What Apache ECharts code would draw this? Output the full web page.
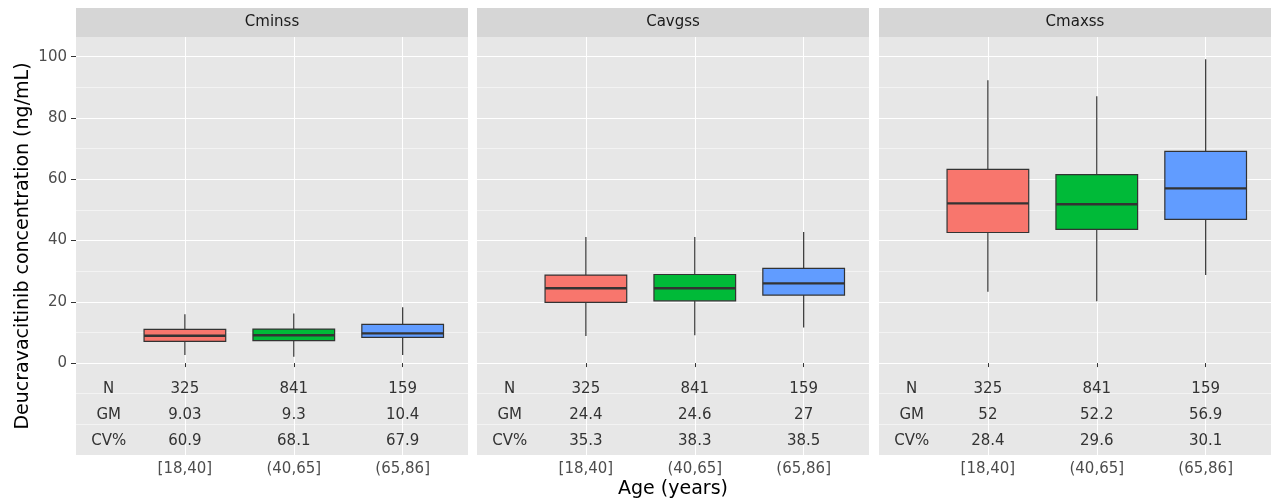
<!DOCTYPE html>
<html>
<head>
<meta charset="utf-8">
<script src="https://cdn.jsdelivr.net/npm/echarts@6/dist/echarts.min.js"></script>
<style>
  html, body { margin: 0; padding: 0; background: #ffffff; }
  #chart { width: 1274px; height: 502px; }
</style>
</head>
<body>
<div id="chart"></div>
<script>
// ---- data ----
const panelNames = ['Cminss', 'Cavgss', 'Cmaxss'];
const ageGroups = ['[18,40]', '(40,65]', '(65,86]'];
const yTickValues = [0, 20, 40, 60, 80, 100];

// box statistics per age group: [lower whisker, Q1, median, Q3, upper whisker]
const cminssBoxes = [[2.6, 7.1, 8.9, 11.0, 15.9], [2.1, 7.3, 9.1, 11.1, 16.2], [2.6, 8.4, 9.7, 12.6, 18.2]];
const cavgssBoxes = [[8.8, 19.8, 24.4, 28.7, 41.1], [9.1, 20.3, 24.4, 28.9, 41.1], [11.6, 22.2, 26.0, 30.9, 42.8]];
const cmaxssBoxes = [[23.3, 42.6, 52.1, 63.2, 92.3], [20.2, 43.6, 51.8, 61.5, 87.1], [28.7, 46.9, 57.0, 69.1, 99.1]];

// summary table rows
const statLabels = ['N', 'GM', 'CV%'];
const subjectCounts = ['325', '841', '159'];
const cminssGM = ['9.03', '9.3', '10.4'];
const cavgssGM = ['24.4', '24.6', '27'];
const cmaxssGM = ['52', '52.2', '56.9'];
const cminssCV = ['60.9', '68.1', '67.9'];
const cavgssCV = ['35.3', '38.3', '38.5'];
const cmaxssCV = ['28.4', '29.6', '30.1'];

// ---- layout & style ----
const panelBoxes = [cminssBoxes, cavgssBoxes, cmaxssBoxes];
const panelTables = [
  [subjectCounts, cminssGM, cminssCV],
  [subjectCounts, cavgssGM, cavgssCV],
  [subjectCounts, cmaxssGM, cmaxssCV]
];
const GROUP_COLORS = ['#F8766D', '#00BA38', '#619CFF'];
const OUTLINE = '#333333';
const FONT = 'DejaVu Sans';
const PANEL_LEFTS = [76, 477, 879];
const PANEL_WIDTH = 392;
const PANEL_TOP = 37;
const PANEL_HEIGHT = 418;
const STRIP_TOP = 8;
const Y_MIN = -30, Y_MAX = 106.4, Y_STEP = 10;
const X_MIN = 0, X_MAX = 3.6;
const BOX_WIDTH = 0.75;
const TABLE_LABEL_X = 0.3;
const TABLE_ROW_Y = [-8.4, -17.0, -25.6];

// horizontal grid line colours: white majors at labelled ticks, lighter minors between
const yGridColors = [];
for (let v = Y_MIN + Y_STEP; v <= 100; v += Y_STEP) {
  yGridColors.push(yTickValues.indexOf(v) >= 0 ? '#ffffff' : '#f3f3f3');
}

function renderBox(params, api) {
  const x = api.value(0);
  const lo = api.coord([x, api.value(1)]);
  const q1 = api.coord([x, api.value(2)]);
  const md = api.coord([x, api.value(3)]);
  const q3 = api.coord([x, api.value(4)]);
  const hi = api.coord([x, api.value(5)]);
  const half = api.size([BOX_WIDTH, 0])[0] / 2;
  const fill = GROUP_COLORS[api.value(6)];
  const thin = { stroke: OUTLINE, lineWidth: 1.2 };
  return {
    type: 'group',
    children: [
      { type: 'line', shape: { x1: hi[0], y1: hi[1], x2: q3[0], y2: q3[1] }, style: thin },
      { type: 'line', shape: { x1: q1[0], y1: q1[1], x2: lo[0], y2: lo[1] }, style: thin },
      { type: 'rect', shape: { x: q3[0] - half, y: q3[1], width: 2 * half, height: q1[1] - q3[1] },
        style: { fill: fill, stroke: OUTLINE, lineWidth: 1.2 } },
      { type: 'line', shape: { x1: md[0] - half, y1: md[1], x2: md[0] + half, y2: md[1] },
        style: { stroke: OUTLINE, lineWidth: 2.4 } }
    ]
  };
}

const grids = [], xAxes = [], yAxes = [], series = [], graphics = [];

panelNames.forEach(function (name, p) {
  grids.push({
    left: PANEL_LEFTS[p], top: PANEL_TOP, width: PANEL_WIDTH, height: PANEL_HEIGHT,
    show: true, backgroundColor: '#e7e7e7', borderWidth: 0,
    containLabel: false, outerBoundsMode: 'none'
  });

  xAxes.push({
    type: 'value', gridIndex: p, min: X_MIN, max: X_MAX, interval: 1,
    axisLine: { show: false },
    axisTick: { show: true, customValues: [1, 2, 3], length: 4, lineStyle: { color: '#333333', width: 1 } },
    axisLabel: {
      customValues: [1, 2, 3], margin: 7,
      formatter: function (v) { return ageGroups[Math.round(v) - 1] || ''; },
      color: '#4d4d4d', fontFamily: FONT, fontSize: 15
    },
    splitLine: { show: true, showMinLine: true, showMaxLine: true, lineStyle: { color: '#ffffff', width: 1 } },
    name: p === 1 ? 'Age (years)' : '',
    nameLocation: 'middle', nameGap: 25, nameMoveOverlap: false,
    nameTextStyle: { color: '#000000', fontFamily: FONT, fontSize: 19 }
  });

  // labelled axis: ticks and labels at 0..100
  yAxes.push({
    type: 'value', gridIndex: p, min: Y_MIN, max: Y_MAX, interval: Y_STEP, position: 'left',
    axisLine: { show: false },
    axisTick: { show: p === 0, customValues: yTickValues, length: 5, lineStyle: { color: '#333333', width: 1 } },
    axisLabel: {
      show: p === 0, customValues: yTickValues, margin: 9,
      color: '#4d4d4d', fontFamily: FONT, fontSize: 15
    },
    splitLine: { show: false },
    name: p === 0 ? 'Deucravacitinib concentration (ng/mL)' : '',
    nameLocation: 'middle', nameRotate: 90, nameGap: 43, nameMoveOverlap: false,
    nameTextStyle: { color: '#000000', fontFamily: FONT, fontSize: 19 }
  });
  // companion axis carrying the major/minor horizontal grid lines
  yAxes.push({
    type: 'value', gridIndex: p, min: Y_MIN, max: Y_MAX, interval: Y_STEP, position: 'right',
    axisLine: { show: false }, axisTick: { show: false }, axisLabel: { show: false },
    splitLine: { show: true, showMinLine: false, showMaxLine: false, lineStyle: { color: yGridColors, width: 1 } }
  });

  // box plots
  series.push({
    type: 'custom', xAxisIndex: p, yAxisIndex: 2 * p,
    renderItem: renderBox,
    encode: { x: 0, y: [1, 2, 3, 4, 5] },
    data: panelBoxes[p].map(function (b, g) { return [g + 1].concat(b).concat([g]); }),
    silent: true
  });

  // summary table inside the panel
  const cells = [];
  statLabels.forEach(function (lab, r) {
    cells.push({ x: TABLE_LABEL_X, y: TABLE_ROW_Y[r], text: lab });
    panelTables[p][r].forEach(function (val, g) {
      cells.push({ x: g + 1, y: TABLE_ROW_Y[r], text: val });
    });
  });
  series.push({
    type: 'custom', xAxisIndex: p, yAxisIndex: 2 * p,
    renderItem: function (params, api) {
      const pt = api.coord([api.value(0), api.value(1)]);
      return {
        type: 'text', x: pt[0], y: pt[1],
        style: {
          text: cells[params.dataIndex].text, fill: '#333333',
          font: '15px "' + FONT + '"', align: 'center', verticalAlign: 'middle'
        }
      };
    },
    data: cells.map(function (c) { return [c.x, c.y]; }),
    silent: true
  });

  // facet strip
  graphics.push({
    type: 'rect', left: PANEL_LEFTS[p], top: STRIP_TOP,
    shape: { width: PANEL_WIDTH, height: PANEL_TOP - STRIP_TOP },
    style: { fill: '#d6d6d6' }, silent: true
  });
  graphics.push({
    type: 'text', x: PANEL_LEFTS[p] + PANEL_WIDTH / 2, y: (STRIP_TOP + PANEL_TOP) / 2,
    style: { text: name, fill: '#1a1a1a', font: '15px "' + FONT + '"', align: 'center', verticalAlign: 'middle' },
    silent: true
  });
});

const chart = echarts.init(document.getElementById('chart'), null, { renderer: 'canvas' });
chart.setOption({
  animation: false,
  backgroundColor: '#ffffff',
  grid: grids,
  xAxis: xAxes,
  yAxis: yAxes,
  series: series,
  graphic: graphics
});
</script>
</body>
</html>
